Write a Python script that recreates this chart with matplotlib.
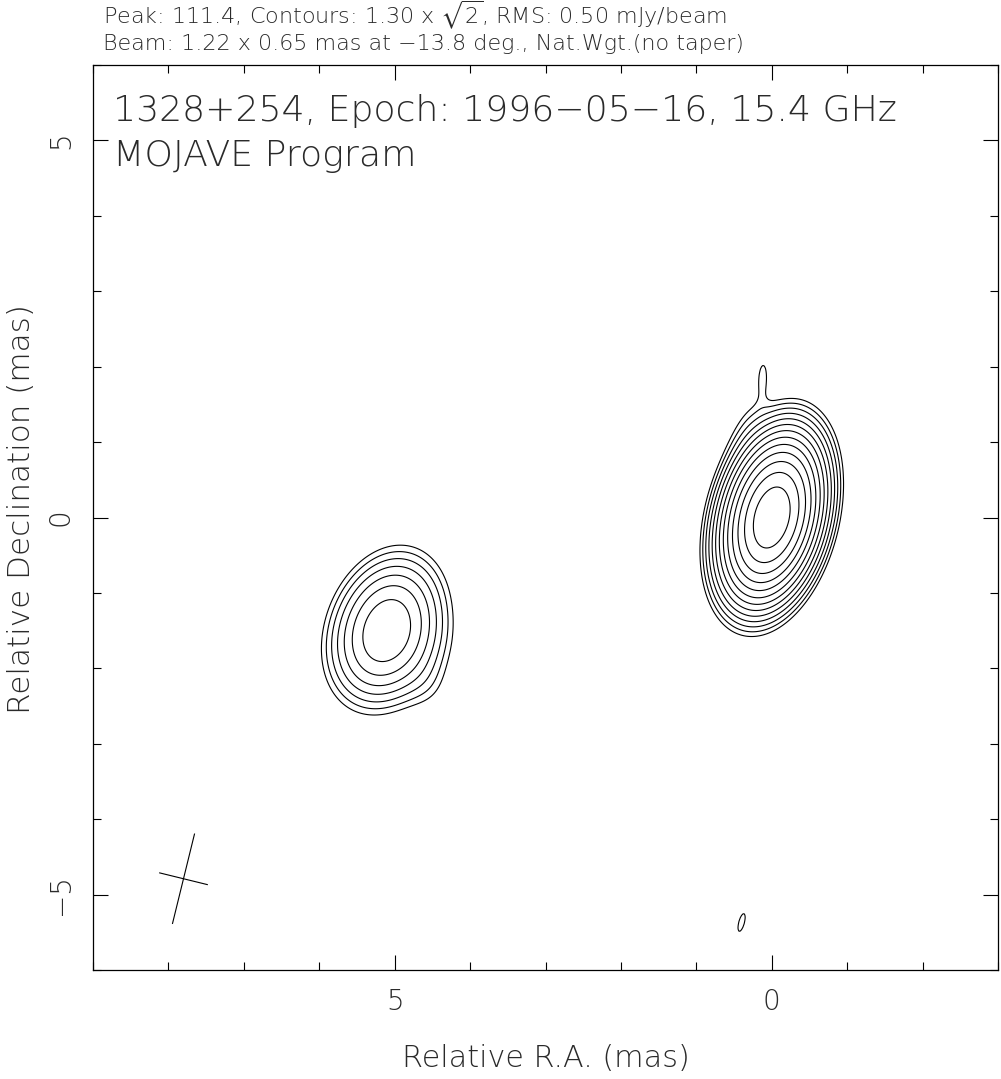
import numpy as np
import matplotlib
matplotlib.use("Agg")
import matplotlib.pyplot as plt
import matplotlib.font_manager as fm

# ---- data ----
peak = 111.4
base_level = 1.30
rms = 0.50
n_levels = 13
levels = base_level * np.sqrt(2.0) ** np.arange(n_levels)

# Gaussian model components (RA mas, Dec mas, peak mJy/beam, sigma major, sigma minor, PA deg)
comp_ra = [0.0, 0.12, 0.32, 5.12, 4.80, 4.55, 0.40]
comp_dec = [0.0, 1.90, 1.30, -1.48, -1.80, -2.25, -5.37]
comp_flux = [111.4, 1.4, 0.7, 13.5, 1.4, 0.5, 1.45]
comp_sig_maj = [0.54, 0.22, 0.35, 0.53, 0.45, 0.25, 0.26]
comp_sig_min = [0.30, 0.07, 0.15, 0.37, 0.40, 0.20, 0.08]
comp_pa = [-14.0, -3.0, -25.0, -20.0, -20.0, 0.0, -15.0]

beam_maj = 1.22
beam_min = 0.65
beam_pa = -13.8

title1 = r"Peak: 111.4, Contours: 1.30 x $\sqrt{2}$, RMS: 0.50 mJy/beam"
title2 = "Beam: 1.22 x 0.65 mas at \u221213.8 deg., Nat.Wgt.(no taper)"
label1 = "1328+254, Epoch: 1996\u221205\u221216, 15.4 GHz"
label2 = "MOJAVE Program"
xlabel = "Relative R.A. (mas)"
ylabel = "Relative Declination (mas)"

x_major = [5, 0]
y_major = [5, 0, -5]

# ---- choose a light font if available ----
fam, wt = 'DejaVu Sans', 400
for cand in ['DejaVu Sans', 'Open Sans', 'Lato', 'Roboto', 'Noto Sans', 'Inter']:
    ws = []
    for f in fm.fontManager.ttflist:
        if f.name == cand:
            w = f.weight
            if isinstance(w, str):
                w = fm.weight_dict.get(w, 400)
            ws.append(int(w))
    light = [w for w in ws if w < 400]
    if light:
        fam, wt = cand, max(light)
        break
plt.rcParams['font.family'] = [fam, 'DejaVu Sans']
plt.rcParams['font.weight'] = wt
plt.rcParams['axes.labelweight'] = wt
TXT = '#2a2a2a'

# ---- model image ----
ra = np.linspace(-3, 9, 721)
dec = np.linspace(-6, 6, 721)
RA, DEC = np.meshgrid(ra, dec)
img = np.zeros_like(RA)
for r0, d0, f, smaj, smin, pa in zip(comp_ra, comp_dec, comp_flux, comp_sig_maj, comp_sig_min, comp_pa):
    p = np.deg2rad(pa)
    dx = RA - r0
    dy = DEC - d0
    u = dx * np.sin(p) + dy * np.cos(p)
    v = dx * np.cos(p) - dy * np.sin(p)
    img += f * np.exp(-0.5 * (u / smaj) ** 2 - 0.5 * (v / smin) ** 2)

W, H = 1001, 1079
fig = plt.figure(figsize=(W / 100, H / 100), dpi=100)
ax = fig.add_axes([93 / W, (H - 970) / H, 905 / W, 905 / H])
ax.contour(RA, DEC, img, levels=levels, colors='black', linewidths=0.8)
ax.set_xlim(9, -3)
ax.set_ylim(-6, 6)

# beam cross
bc_ra, bc_dec = 7.8, -4.79
p = np.deg2rad(beam_pa)
ax.plot([bc_ra + 0.5 * beam_maj * np.sin(p), bc_ra - 0.5 * beam_maj * np.sin(p)],
        [bc_dec + 0.5 * beam_maj * np.cos(p), bc_dec - 0.5 * beam_maj * np.cos(p)],
        color='black', lw=0.8)
ax.plot([bc_ra + 0.5 * beam_min * np.cos(p), bc_ra - 0.5 * beam_min * np.cos(p)],
        [bc_dec - 0.5 * beam_min * np.sin(p), bc_dec + 0.5 * beam_min * np.sin(p)],
        color='black', lw=0.8)

ax.set_xticks(x_major)
ax.set_xticklabels([str(v) for v in x_major])
ax.set_yticks(y_major)
ax.set_yticklabels([str(v).replace('-', '\u2212') for v in y_major], rotation=90, va='center')
ax.set_xticks(np.arange(-3, 10, 1), minor=True)
ax.set_yticks(np.arange(-6, 7, 1), minor=True)
ax.tick_params(which='both', direction='in', top=True, right=True, width=0.8, colors='black',
               labelsize=20, labelcolor=TXT)
ax.tick_params(which='major', length=11, pad=13)
ax.tick_params(which='minor', length=6)
for s in ax.spines.values():
    s.set_linewidth(0.9)

ax.set_xlabel(xlabel, fontsize=21, color=TXT, fontweight=wt)
ax.xaxis.label.set_va('baseline')
ax.xaxis.set_label_coords(0.5, (970 - 1067) / 905)
ax.set_ylabel(ylabel, fontsize=21, color=TXT, ha='center', va='center', fontweight=wt)
ax.yaxis.set_label_coords((22 - 93) / 905, (970 - 509) / 905)

t_l1 = ax.text(20 / 905, (970 - 121) / 905, label1, transform=ax.transAxes, fontsize=25, color=TXT, va='baseline')
t_l2 = ax.text(20 / 905, (970 - 166) / 905, label2, transform=ax.transAxes, fontsize=25, color=TXT, va='baseline')
t_t1 = fig.text(103 / W, 1 - 23 / H, title1, fontsize=16, color=TXT, va='baseline')
t_t2 = fig.text(103 / W, 1 - 50 / H, title2, fontsize=16, color=TXT, va='baseline')

# fit font sizes to the reference text widths (pixels)
fig.canvas.draw()
r = fig.canvas.get_renderer()
fits = [(t_l1, 785), (ax.xaxis.label, 287)]
for t, target in fits:
    w = t.get_window_extent(r).width
    t.set_fontsize(t.get_fontsize() * target / w)
h = ax.yaxis.label.get_window_extent(r).height
ax.yaxis.label.set_fontsize(ax.yaxis.label.get_fontsize() * 410 / h)
t_l2.set_fontsize(t_l1.get_fontsize())

fig.savefig("out.png", dpi=100)
